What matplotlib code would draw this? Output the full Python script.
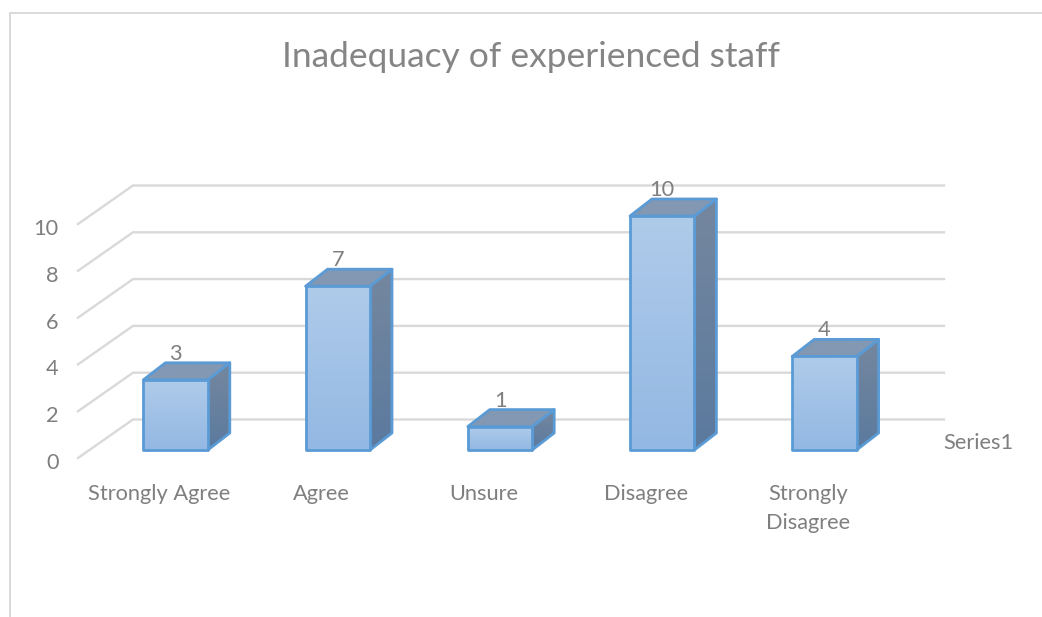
import numpy as np
import matplotlib
matplotlib.use("Agg")
import matplotlib.pyplot as plt
from matplotlib.colors import to_rgb
from matplotlib.lines import Line2D
from matplotlib.patches import Polygon
from matplotlib.transforms import Affine2D, IdentityTransform

title = "Inadequacy of experienced staff"
categories = ["Strongly Agree", "Agree", "Unsure", "Disagree", "Strongly\nDisagree"]
values = [3, 7, 1, 10, 4]
series_name = "Series1"
y_ticks = [0, 2, 4, 6, 8, 10]

W, H = 1042, 617
FONT = "Lato"
GREY = "#7F7F7F"
GRID = "#D9D9D9"
EDGE = "#5B9BD5"
WALL = (55, 38.5)      # depth of the chart floor, pixels
BAR_SHIFT = (16.5, 8)  # bar front plane relative to chart front plane
BAR_DEPTH = (22, 17)   # depth of each bar, pixels
BAR_W = 0.397
LABEL_SIZE = 15.7

fig = plt.figure(figsize=(W / 100, H / 100), dpi=100, facecolor="white")
ax = fig.add_axes([78 / W, 1 - 458 / H, 811 / W, 234 / H])
ax.set_facecolor("none")
ax.set_xlim(-0.5, len(categories) - 0.5)
ax.set_ylim(0, 10)
for s in ax.spines.values():
    s.set_visible(False)
ax.set_yticks(y_ticks)
ax.set_xticks(range(len(categories)))
ax.set_xticklabels(categories, fontsize=LABEL_SIZE, family=FONT, color=GREY, linespacing=1.6)
ax.set_yticklabels([str(t) for t in y_ticks], fontsize=LABEL_SIZE, family=FONT, color=GREY,
                   va="center_baseline")
ax.tick_params(axis="both", length=0)
ax.tick_params(axis="x", pad=18.5)
ax.tick_params(axis="y", pad=14)
for lab in ax.get_yticklabels():
    lab.set_transform(lab.get_transform() + Affine2D().translate(0, -3))

ident = IdentityTransform()
fig.canvas.draw()


def disp(x, y):
    return ax.transData.transform((x, y))


# walls: diagonal plus back gridline
for v in y_ticks:
    a = disp(-0.5, v)
    b = a + WALL
    c = disp(len(categories) - 0.5, v) + WALL
    ax.add_line(Line2D([a[0], b[0], c[0]], [a[1], b[1], c[1]], transform=ident,
                       color=GRID, lw=1.7, zorder=1, clip_on=False,
                       solid_joinstyle="miter"))


def grad_face(pts, top, bottom, z):
    pts = np.array(pts)
    poly = Polygon(pts, closed=True, transform=ident, facecolor="none",
                   edgecolor=EDGE, lw=2.0, joinstyle="round", zorder=z + 0.1, clip_on=False)
    ax.add_patch(poly)
    t, b = np.array(to_rgb(top)), np.array(to_rgb(bottom))
    grad = np.linspace(0, 1, 256)[:, None, None] * (b - t) + t
    im = ax.imshow(grad, extent=(pts[:, 0].min(), pts[:, 0].max(), pts[:, 1].min(), pts[:, 1].max()),
                   transform=ident, aspect="auto", origin="upper", zorder=z)
    im.set_clip_box(fig.bbox)
    im.set_clip_path(Polygon(pts, closed=True, transform=ident))


for i, v in enumerate(values):
    bl = disp(i - BAR_W / 2, 0) + BAR_SHIFT
    br = disp(i + BAR_W / 2, 0) + BAR_SHIFT
    tl = disp(i - BAR_W / 2, v) + BAR_SHIFT
    tr = disp(i + BAR_W / 2, v) + BAR_SHIFT
    d = np.array(BAR_DEPTH)
    z = 3 + i
    grad_face([br, tr, tr + d, br + d], "#75879F", "#5B7A9E", z)
    grad_face([tl, tr, tr + d, tl + d], "#8398B3", "#8398B3", z + 0.2)
    grad_face([bl, br, tr, tl], "#AFCBEA", "#93B8E3", z + 0.4)
    ax.annotate(str(v), xy=(i, v), xycoords="data",
                xytext=(BAR_SHIFT[0], BAR_SHIFT[1] + 26), textcoords="offset pixels",
                ha="center", va="center", fontsize=LABEL_SIZE, family=FONT, color=GREY,
                zorder=20, annotation_clip=False)

ax.set_xlim(-0.5, len(categories) - 0.5)
ax.set_ylim(0, 10)

fig.text(943 / W, 1 - 443 / H, series_name, ha="left", va="center",
         fontsize=LABEL_SIZE, family=FONT, color=GREY)
fig.text(530.5 / W, 1 - 57 / H, title, ha="center", va="center",
         fontsize=25.5, family=FONT, color="#858585")

# chart frame
fig.add_artist(Line2D([9.5 / W, 9.5 / W, 1], [0, 1 - 13 / H, 1 - 13 / H],
                      transform=fig.transFigure, color=GRID, lw=1.4))

fig.savefig("out.png", dpi=100, facecolor="white")
